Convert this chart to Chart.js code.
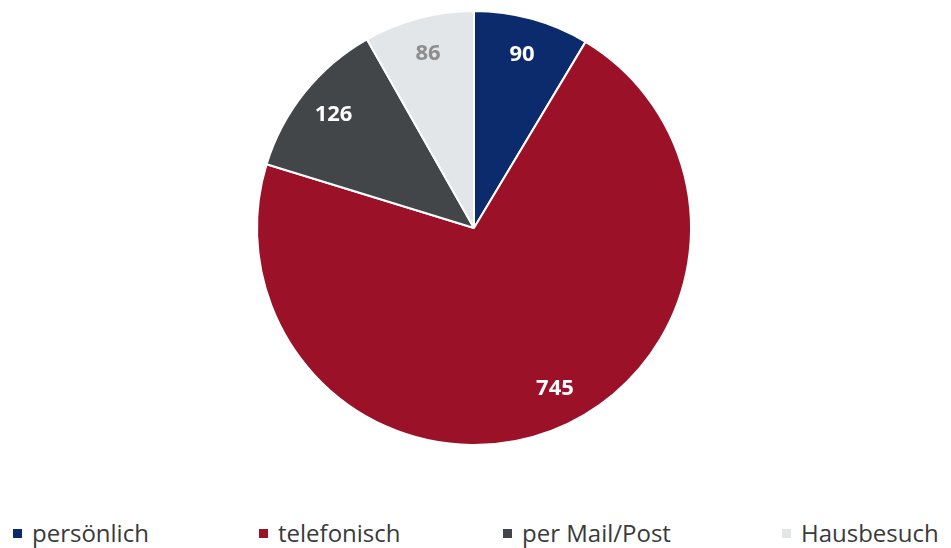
<!DOCTYPE html>
<html>
<head>
<meta charset="utf-8">
<script src="https://cdn.jsdelivr.net/npm/chart.js@4"></script>
<style>
  body { margin: 0; background: #fff; width: 951px; height: 548px; overflow: hidden; position: relative; }
  #wrap { position: absolute; left: 0; top: 0; width: 951px; height: 456px; }
  #legend { position: absolute; left: 0; top: 517px; width: 951px; height: 31px; font-family: "Open Sans", sans-serif; font-size: 24px; color: #3a3a3a; }
  .item { position: absolute; top: 0; white-space: nowrap; line-height: 31px; }
  .box { display: inline-block; width: 9px; height: 9px; margin-right: 10px; vertical-align: middle; position: relative; top: -2px; }
</style>
</head>
<body>
<div id="wrap"><canvas id="pie"></canvas></div>
<div id="legend"></div>
<script>
const categories = ['persönlich', 'telefonisch', 'per Mail/Post', 'Hausbesuch'];
const values = [90, 745, 126, 86];
const colors = ['#0c2b6c', '#9b1127', '#434649', '#e3e6e9'];
const labelColors = ['#ffffff', '#ffffff', '#ffffff', '#8d8d8d'];
const legendLeft = [13, 259, 503, 782];

// Werte in den Segmenten
const sliceLabels = {
  id: 'sliceLabels',
  afterDatasetsDraw(chart) {
    const ctx = chart.ctx;
    const meta = chart.getDatasetMeta(0);
    ctx.save();
    ctx.font = 'bold 22px "Open Sans", sans-serif';
    ctx.textAlign = 'center';
    ctx.textBaseline = 'middle';
    meta.data.forEach((arc, i) => {
      let mid = (arc.startAngle + arc.endAngle) / 2;
      if (i === 1) mid -= 0.1;
      const r = arc.outerRadius * 0.83;
      ctx.fillStyle = labelColors[i];
      ctx.fillText(values[i], arc.x + Math.cos(mid) * r, arc.y + Math.sin(mid) * r);
    });
    ctx.restore();
  }
};

new Chart(document.getElementById('pie'), {
  type: 'pie',
  data: {
    labels: categories,
    datasets: [{
      data: values,
      backgroundColor: colors,
      borderColor: '#ffffff',
      borderWidth: 2
    }]
  },
  options: {
    responsive: true,
    maintainAspectRatio: false,
    animation: false,
    layout: { padding: { top: 10, bottom: 10, left: 0, right: 3 } },
    plugins: {
      legend: { display: false },
      tooltip: { enabled: false }
    }
  },
  plugins: [sliceLabels]
});

const legendEl = document.getElementById('legend');
categories.forEach((name, i) => {
  const item = document.createElement('div');
  item.className = 'item';
  item.style.left = legendLeft[i] + 'px';
  const box = document.createElement('span');
  box.className = 'box';
  box.style.background = colors[i];
  item.appendChild(box);
  item.appendChild(document.createTextNode(name));
  legendEl.appendChild(item);
});
</script>
</body>
</html>
